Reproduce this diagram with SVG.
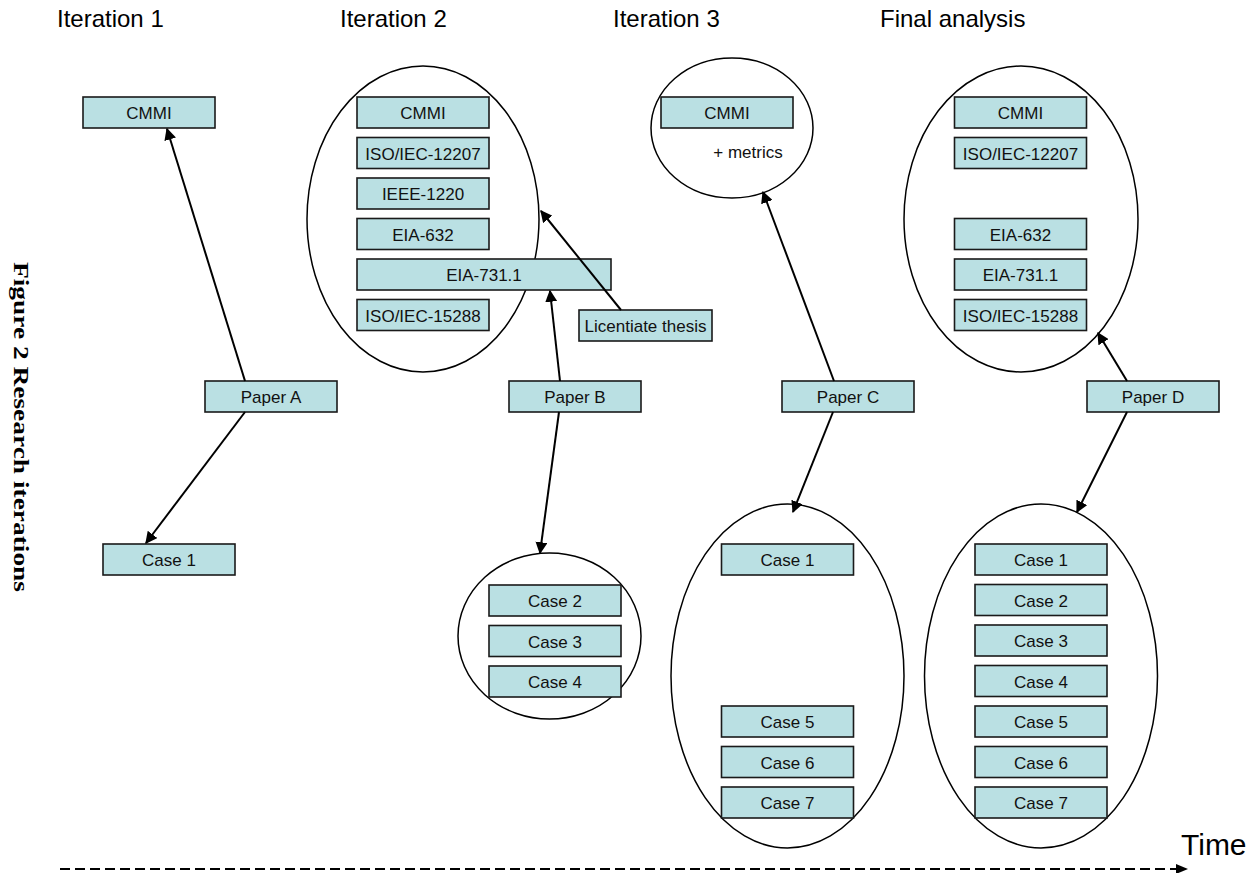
<svg xmlns="http://www.w3.org/2000/svg" width="1260" height="873" viewBox="0 0 1260 873">
<defs>
<style>
.box{fill:#BAE0E3;stroke:#1a1a1a;stroke-width:1.6}
.lbl{font-family:"Liberation Sans",Arial,sans-serif;font-size:17px;fill:#111;text-anchor:middle}
.title{font-family:"Liberation Sans",Arial,sans-serif;font-size:24px;fill:#000}
.ell{fill:none;stroke:#000;stroke-width:1.5}
.con{stroke:#000;stroke-width:2;fill:none;marker-end:url(#ah)}
</style>
<marker id="ah" viewBox="0 0 10 10" refX="9" refY="5" markerWidth="6" markerHeight="6" orient="auto" markerUnits="strokeWidth">
<path d="M0,0 L10,5 L0,10 z" fill="#000"/>
</marker>
</defs>
<rect width="1260" height="873" fill="#fff"/>

<g id="titles">
<text class="title" x="57" y="27">Iteration 1</text>
<text class="title" x="340" y="27">Iteration 2</text>
<text class="title" x="613" y="27">Iteration 3</text>
<text class="title" x="880" y="27">Final analysis</text>
</g>

<text id="caption" x="0" y="0" transform="translate(14,262) rotate(90)" font-family="'Liberation Serif','Times New Roman',serif" font-weight="bold" font-size="20" textLength="330" lengthAdjust="spacingAndGlyphs">Figure 2 Research iterations</text>

<g id="groups">
<ellipse id="set-it2" class="ell" cx="423" cy="219" rx="116" ry="153"/>
<ellipse id="set-it3" class="ell" cx="732" cy="128" rx="81" ry="70"/>
<ellipse id="set-final" class="ell" cx="1021" cy="219" rx="117" ry="153"/>
<ellipse id="cases-b" class="ell" cx="549.5" cy="636" rx="91.5" ry="83"/>
<ellipse id="cases-c" class="ell" cx="787.5" cy="676" rx="116.5" ry="172"/>
<ellipse id="cases-d" class="ell" cx="1041" cy="676" rx="116.5" ry="172"/>
</g>

<g id="n-it1-cmmi"><rect class="box" x="83" y="97" width="132" height="31"/><text class="lbl" x="149" y="119">CMMI</text></g>
<g id="n-it1-case1"><rect class="box" x="103" y="544" width="132" height="31"/><text class="lbl" x="169" y="566">Case 1</text></g>
<g id="n-paperA"><rect class="box" x="205" y="381" width="132" height="31"/><text class="lbl" x="271" y="403">Paper A</text></g>

<g id="n-it2-cmmi"><rect class="box" x="357" y="97" width="132" height="31"/><text class="lbl" x="423" y="119">CMMI</text></g>
<g id="n-it2-12207"><rect class="box" x="357" y="137.5" width="132" height="31"/><text class="lbl" x="423" y="159.5">ISO/IEC-12207</text></g>
<g id="n-it2-1220"><rect class="box" x="357" y="178" width="132" height="31"/><text class="lbl" x="423" y="200">IEEE-1220</text></g>
<g id="n-it2-632"><rect class="box" x="357" y="218.5" width="132" height="31"/><text class="lbl" x="423" y="240.5">EIA-632</text></g>
<g id="n-it2-731"><rect class="box" x="357" y="259" width="254" height="31"/><text class="lbl" x="484" y="281">EIA-731.1</text></g>
<g id="n-it2-15288"><rect class="box" x="357" y="299.5" width="132" height="31"/><text class="lbl" x="423" y="321.5">ISO/IEC-15288</text></g>
<g id="n-lic"><rect class="box" x="579" y="310" width="133" height="31"/><text class="lbl" x="645.5" y="332">Licentiate thesis</text></g>
<g id="n-paperB"><rect class="box" x="509" y="381" width="132" height="31"/><text class="lbl" x="575" y="403">Paper B</text></g>
<g id="n-b-case2"><rect class="box" x="489" y="585" width="132" height="31"/><text class="lbl" x="555" y="607">Case 2</text></g>
<g id="n-b-case3"><rect class="box" x="489" y="625.5" width="132" height="31"/><text class="lbl" x="555" y="647.5">Case 3</text></g>
<g id="n-b-case4"><rect class="box" x="489" y="666" width="132" height="31"/><text class="lbl" x="555" y="688">Case 4</text></g>

<g id="n-it3-cmmi"><rect class="box" x="661" y="97" width="132" height="31"/><text class="lbl" x="727" y="119">CMMI</text></g>
<text id="metrics" class="lbl" x="748" y="158">+ metrics</text>
<g id="n-paperC"><rect class="box" x="782" y="381" width="132" height="31"/><text class="lbl" x="848" y="403">Paper C</text></g>
<g id="n-c-case1"><rect class="box" x="721.5" y="544" width="132" height="31"/><text class="lbl" x="787.5" y="566">Case 1</text></g>
<g id="n-c-case5"><rect class="box" x="721.5" y="706" width="132" height="31"/><text class="lbl" x="787.5" y="728">Case 5</text></g>
<g id="n-c-case6"><rect class="box" x="721.5" y="746.5" width="132" height="31"/><text class="lbl" x="787.5" y="768.5">Case 6</text></g>
<g id="n-c-case7"><rect class="box" x="721.5" y="787" width="132" height="31"/><text class="lbl" x="787.5" y="809">Case 7</text></g>

<g id="n-f-cmmi"><rect class="box" x="954.5" y="97" width="132" height="31"/><text class="lbl" x="1020.5" y="119">CMMI</text></g>
<g id="n-f-12207"><rect class="box" x="954.5" y="137.5" width="132" height="31"/><text class="lbl" x="1020.5" y="159.5">ISO/IEC-12207</text></g>
<g id="n-f-632"><rect class="box" x="954.5" y="218.5" width="132" height="31"/><text class="lbl" x="1020.5" y="240.5">EIA-632</text></g>
<g id="n-f-731"><rect class="box" x="954.5" y="259" width="132" height="31"/><text class="lbl" x="1020.5" y="281">EIA-731.1</text></g>
<g id="n-f-15288"><rect class="box" x="954.5" y="299.5" width="132" height="31"/><text class="lbl" x="1020.5" y="321.5">ISO/IEC-15288</text></g>
<g id="n-paperD"><rect class="box" x="1087" y="381" width="132" height="31"/><text class="lbl" x="1153" y="403">Paper D</text></g>
<g id="n-d-case1"><rect class="box" x="975" y="544" width="132" height="31"/><text class="lbl" x="1041" y="566">Case 1</text></g>
<g id="n-d-case2"><rect class="box" x="975" y="584.5" width="132" height="31"/><text class="lbl" x="1041" y="606.5">Case 2</text></g>
<g id="n-d-case3"><rect class="box" x="975" y="625" width="132" height="31"/><text class="lbl" x="1041" y="647">Case 3</text></g>
<g id="n-d-case4"><rect class="box" x="975" y="665.5" width="132" height="31"/><text class="lbl" x="1041" y="687.5">Case 4</text></g>
<g id="n-d-case5"><rect class="box" x="975" y="706" width="132" height="31"/><text class="lbl" x="1041" y="728">Case 5</text></g>
<g id="n-d-case6"><rect class="box" x="975" y="746.5" width="132" height="31"/><text class="lbl" x="1041" y="768.5">Case 6</text></g>
<g id="n-d-case7"><rect class="box" x="975" y="787" width="132" height="31"/><text class="lbl" x="1041" y="809">Case 7</text></g>

<g id="connectors">
<line class="con" x1="245" y1="381" x2="167" y2="129"/>
<line class="con" x1="245" y1="412" x2="146" y2="543"/>
<line class="con" x1="621" y1="310" x2="541" y2="211"/>
<line class="con" x1="560" y1="381" x2="550" y2="291"/>
<line class="con" x1="559" y1="412" x2="540" y2="553"/>
<line class="con" x1="834" y1="381" x2="763" y2="192"/>
<line class="con" x1="833" y1="412" x2="793" y2="512"/>
<line class="con" x1="1127" y1="381" x2="1098" y2="333"/>
<line class="con" x1="1127" y1="412" x2="1077" y2="512"/>
<line stroke="#000" stroke-width="2" stroke-dasharray="10 5" x1="60" y1="869" x2="1180" y2="869"/>
<path d="M1188,869 L1176,864 L1176,874 z" fill="#000"/>
</g>
<text id="time" x="1181" y="855" font-family="'Liberation Sans',Arial,sans-serif" font-size="30">Time</text>
</svg>
